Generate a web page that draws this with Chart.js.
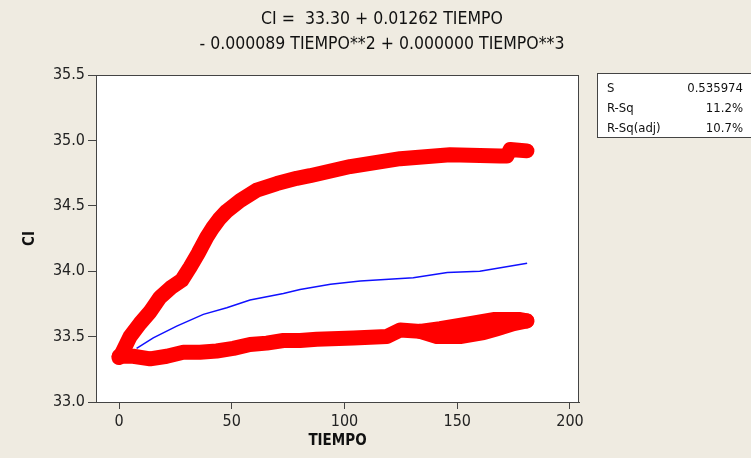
<!DOCTYPE html>
<html>
<head>
<meta charset="utf-8">
<script src="https://cdn.jsdelivr.net/npm/chart.js@4.4.0/dist/chart.umd.min.js"></script>
<style>
  html, body { margin: 0; padding: 0; background: #efebe1; }
  #wrap { width: 751px; height: 458px; }
</style>
</head>
<body>
<div id="wrap"><canvas id="fitChart" width="751" height="458"></canvas></div>
<script>
// values
const xTicks = [0, 50, 100, 150, 200];
const yTicks = [33.0, 33.5, 34.0, 34.5, 35.0, 35.5];

// red scatter, upper branch
const upperTiempo = [0, 1.2, 4.9, 9.3, 13.8, 18.2, 23.4, 27.8, 31.5, 35.2, 38.9, 41.5, 44.5, 47.8, 53.7, 61.1, 70, 78.8, 84.7, 102.5, 124.7, 146.8, 169, 172, 173.5, 180.9];
const upperCI = [33.34, 33.37, 33.50, 33.60, 33.69, 33.80, 33.88, 33.93, 34.03, 34.14, 34.26, 34.33, 34.40, 34.46, 34.54, 34.62, 34.67, 34.71, 34.73, 34.80, 34.86, 34.89, 34.88, 34.88, 34.93, 34.92];

// red scatter, lower branch
const lowerTiempo = [0, 6.3, 13.8, 21.2, 28.5, 35.9, 43.3, 50.7, 58.1, 65.5, 72.9, 80.3, 87.7, 104, 118.8, 124.7, 133.5, 142.4, 155.7, 166, 177.9, 180.9];
const lowerCI = [33.35, 33.35, 33.33, 33.35, 33.38, 33.38, 33.39, 33.41, 33.44, 33.45, 33.47, 33.47, 33.48, 33.49, 33.50, 33.55, 33.54, 33.56, 33.60, 33.63, 33.63, 33.62];

// second pass of the lower branch near the end
const loopTiempo = [133.5, 141, 151.3, 161.7, 167.6, 175, 180.9];
const loopCI = [33.54, 33.50, 33.50, 33.53, 33.56, 33.60, 33.62];

// fitted cubic (blue)
const fitTiempo = [7.8, 15.2, 25.6, 37.4, 47.8, 58.1, 72.9, 80.3, 93.8, 107, 130.5, 145.6, 160, 181];
const fitCI = [33.41, 33.49, 33.58, 33.67, 33.72, 33.78, 33.83, 33.86, 33.90, 33.925, 33.95, 33.99, 34.00, 34.06];

const statLabels = ["S", "R-Sq", "R-Sq(adj)"];
const statValues = ["0.535974", "11.2%", "10.7%"];

const titleLines = ["CI =  33.30 + 0.01262 TIEMPO", "- 0.000089 TIEMPO**2 + 0.000000 TIEMPO**3"];

const FONT = '"DejaVu Sans Condensed", "DejaVu Sans", sans-serif';
const BG = "#efebe1";

const toPoints = (xs, ys) => xs.map((x, i) => ({ x: x, y: ys[i] }));

const redBand = {
    borderColor: "#ff0000",
    backgroundColor: "#ff0000",
    borderWidth: 15,
    borderCapStyle: "round",
    borderJoinStyle: "round",
    pointRadius: 0,
    showLine: true,
    fill: false,
    tension: 0,
};

const framePlugin = {
    id: "frame",
    beforeDraw(chart) {
        const { ctx, chartArea: a } = chart;
        ctx.save();
        ctx.fillStyle = BG;
        ctx.fillRect(0, 0, chart.width, chart.height);
        ctx.fillStyle = "#ffffff";
        ctx.fillRect(a.left, a.top, a.right - a.left, a.bottom - a.top);
        ctx.restore();
    },
    afterDraw(chart) {
        const { ctx, chartArea: a } = chart;
        ctx.save();
        ctx.strokeStyle = "#444";
        ctx.lineWidth = 1;
        ctx.strokeRect(a.left + 0.5, a.top + 0.5, a.right - a.left - 1, a.bottom - a.top);

        // title
        ctx.fillStyle = "#111";
        ctx.font = "17.5px " + FONT;
        ctx.textAlign = "center";
        ctx.textBaseline = "middle";
        ctx.fillText(titleLines[0], 382, 19);
        ctx.fillText(titleLines[1], 382, 44);

        // stats box
        ctx.fillStyle = "#ffffff";
        ctx.fillRect(597, 73, 160, 65);
        ctx.strokeStyle = "#444";
        ctx.strokeRect(597.5, 73.5, 160, 64);
        ctx.fillStyle = "#111";
        ctx.font = "13px " + FONT;
        ctx.textBaseline = "middle";
        statLabels.forEach((lab, i) => {
            const y = 89 + i * 20;
            ctx.textAlign = "left";
            ctx.fillText(lab, 607, y);
            ctx.textAlign = "right";
            ctx.fillText(statValues[i], 743, y);
        });
        ctx.restore();
    },
};

new Chart(document.getElementById("fitChart"), {
    type: "scatter",
    data: {
        datasets: [
            Object.assign({ label: "upper", data: toPoints(upperTiempo, upperCI) }, redBand),
            Object.assign({ label: "lower", data: toPoints(lowerTiempo, lowerCI) }, redBand),
            Object.assign({ label: "loop", data: toPoints(loopTiempo, loopCI) }, redBand),
            {
                label: "fit",
                data: toPoints(fitTiempo, fitCI),
                showLine: true,
                borderColor: "#1010ff",
                borderWidth: 1.5,
                pointRadius: 0,
                tension: 0,
            },
        ],
    },
    options: {
        responsive: false,
        animation: false,
        layout: { padding: { left: 0, top: 75, right: 172, bottom: 0 } },
        plugins: {
            legend: { display: false },
            tooltip: { enabled: false },
        },
        scales: {
            x: {
                type: "linear",
                min: -10.2,
                max: 204,
                afterBuildTicks: s => { s.ticks = xTicks.map(v => ({ value: v })); },
                afterFit: s => { s.height = 56; },
                ticks: { font: { family: FONT, size: 16 }, color: "#222", padding: 3 },
                grid: { drawOnChartArea: false, tickLength: 7, color: "#444" },
                border: { color: "#444" },
                title: {
                    display: true,
                    text: "TIEMPO",
                    color: "#111",
                    font: { family: FONT, size: 15, weight: "bold" },
                    padding: { top: 0, bottom: 8 },
                },
            },
            y: {
                min: 33,
                max: 35.5,
                afterBuildTicks: s => { s.ticks = yTicks.map(v => ({ value: v })); },
                afterFit: s => { s.width = 96; },
                ticks: {
                    font: { family: FONT, size: 16 },
                    color: "#222",
                    padding: 3,
                    callback: v => v.toFixed(1),
                },
                grid: { drawOnChartArea: false, tickLength: 8, color: "#444" },
                border: { color: "#444" },
                title: {
                    display: true,
                    text: "CI",
                    color: "#111",
                    font: { family: FONT, size: 15, weight: "bold" },
                    padding: { top: 21, bottom: 0 },
                },
            },
        },
    },
    plugins: [framePlugin],
});
</script>
</body>
</html>
